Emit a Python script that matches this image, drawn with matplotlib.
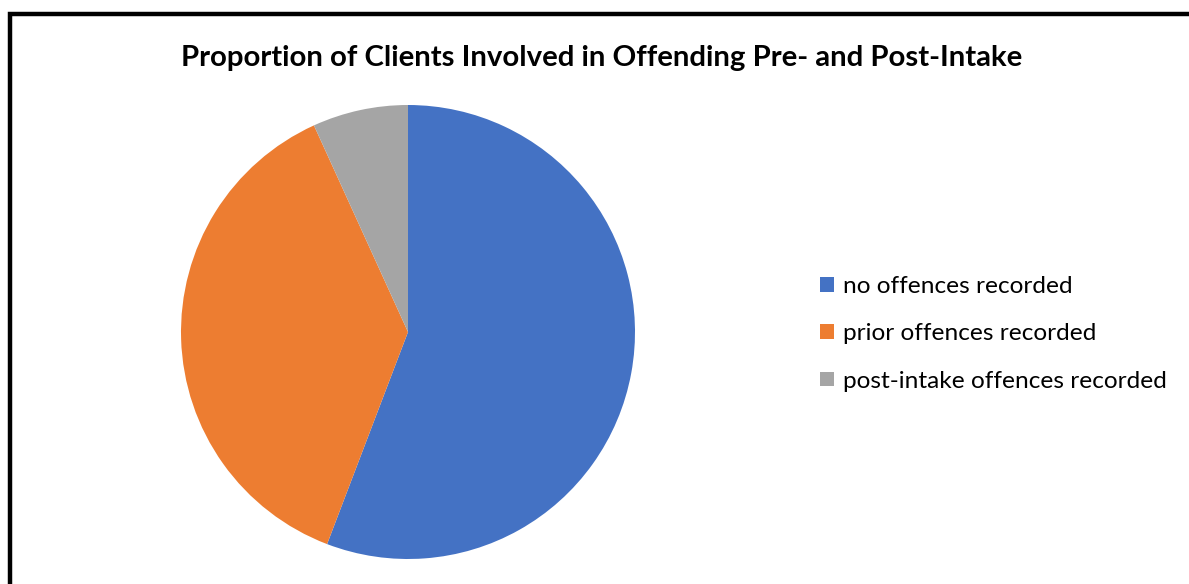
import matplotlib.pyplot as plt
from matplotlib.patches import Rectangle

# Share of clients by offending status (percent).
labels = ['no offences recorded', 'prior offences recorded',
          'post-intake offences recorded']
shares = [55.8, 37.4, 6.8]
colors = ['#4472C4', '#ED7D31', '#A5A5A5']

plt.rcParams['font.family'] = ['Lato', 'DejaVu Sans']

W, H = 1189, 584
fig = plt.figure(figsize=(W / 100, H / 100), dpi=100)

# Chart frame: only the left and top edges fall inside the image.
fig.patches.append(Rectangle((10 / W, -0.1), 1.2, 1 - 14 / H + 0.1,
                             transform=fig.transFigure, fill=False,
                             edgecolor='black', linewidth=3.2))

cx, cy, r = 408, 332, 227
ax = fig.add_axes([(cx - r) / W, (H - cy - r) / H, 2 * r / W, 2 * r / H])
wedges, _ = ax.pie(shares, colors=colors, startangle=90, counterclock=False,
                   radius=1, wedgeprops=dict(linewidth=0))
ax.set_xlim(-1, 1)
ax.set_ylim(-1, 1)
ax.set_aspect('equal')
ax.axis('off')

fig.text(602 / W, 1 - 58 / H,
         'Proportion of Clients Involved in Offending Pre- and Post-Intake',
         ha='center', va='center', fontsize=21.2, fontweight='bold')

leg = fig.legend(wedges, labels, loc='center left',
                 bbox_to_anchor=(808 / W, 1 - 334 / H), frameon=False,
                 fontsize=17.6, handlelength=0.55, handleheight=0.55,
                 handletextpad=0.37, labelspacing=1.07, borderpad=0)

fig.savefig('out.png', dpi=100)
